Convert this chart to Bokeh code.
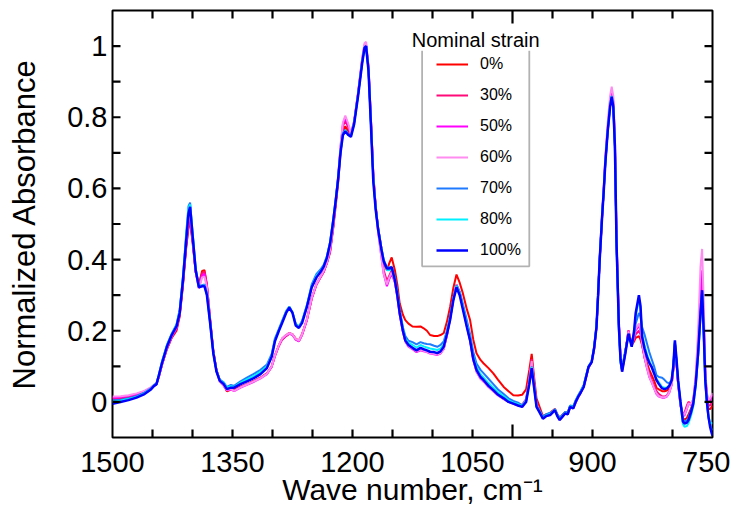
from bokeh.plotting import figure
from bokeh.models import (LinearAxis, FixedTicker, Range1d, Legend, LegendItem,
                          BoxAnnotation, Label)
from bokeh.embed import file_html
from bokeh.resources import INLINE

# ---------------- data ----------------
wavenumber = [
    1500, 1490, 1480, 1470, 1460, 1452, 1448, 1445, 1442, 1438,
    1432, 1426, 1420, 1416, 1412, 1408, 1405, 1403, 1400, 1396,
    1392, 1388, 1385, 1382, 1378, 1374, 1370, 1366, 1361, 1357,
    1352, 1348, 1340, 1332, 1324, 1315, 1307, 1301, 1297, 1292,
    1288, 1283, 1279, 1275, 1271, 1267, 1263, 1257, 1251, 1245,
    1240, 1236, 1232, 1228, 1224, 1221, 1218, 1215, 1212, 1209,
    1205, 1202, 1198, 1193, 1188, 1185, 1183, 1180, 1177, 1174,
    1171, 1168, 1164, 1161, 1157, 1154, 1151, 1147, 1144, 1141,
    1137, 1134, 1130, 1125, 1120, 1115, 1111, 1107, 1103, 1098,
    1094, 1090, 1086, 1082, 1078, 1074, 1070, 1066, 1062, 1057,
    1053, 1049, 1045, 1040, 1036, 1030, 1024, 1018, 1011, 1005,
    999, 993, 988, 983, 979, 976, 973, 970, 966, 962,
    958, 953, 950, 947, 944, 941, 937, 934, 931, 928,
    924, 921, 918, 915, 911, 908, 905, 901, 898, 895,
    893, 891, 888, 886, 884, 881, 878, 876, 874, 872,
    870, 867, 865, 863, 861, 859, 855, 851, 848, 846,
    842, 840, 838, 835, 832, 829, 826, 823, 820, 817,
    813, 810, 807, 804, 801, 799, 797, 795, 793, 790,
    787, 785, 782, 780, 777, 774, 771, 768, 765, 763,
    761, 759, 757, 755, 753, 751, 750,
]

strain_0 = [
    0.005, 0.008, 0.012, 0.018, 0.026, 0.036, 0.045, 0.05, 0.072, 0.105,
    0.148, 0.18, 0.2, 0.24, 0.325, 0.43, 0.49, 0.505, 0.45, 0.365,
    0.33, 0.368, 0.37, 0.33, 0.235, 0.145, 0.09, 0.062, 0.048, 0.03,
    0.035, 0.035, 0.043, 0.05, 0.058, 0.068, 0.08, 0.1, 0.13, 0.158,
    0.175, 0.185, 0.192, 0.19, 0.178, 0.172, 0.19, 0.23, 0.29, 0.33,
    0.35, 0.365, 0.39, 0.42, 0.49, 0.55, 0.615, 0.70, 0.76, 0.775,
    0.76, 0.75, 0.785, 0.865, 0.955, 0.998, 1.0, 0.935, 0.79, 0.635,
    0.55, 0.49, 0.435, 0.39, 0.37, 0.39, 0.406, 0.37, 0.33, 0.277,
    0.245, 0.23, 0.22, 0.212, 0.211, 0.212, 0.207, 0.2, 0.188, 0.185,
    0.185, 0.188, 0.193, 0.225, 0.267, 0.32, 0.358, 0.335, 0.305, 0.26,
    0.23, 0.175, 0.137, 0.118, 0.108, 0.095, 0.08, 0.062, 0.042, 0.03,
    0.019, 0.018, 0.02, 0.035, 0.09, 0.135, 0.07, 0.01, -0.015, -0.04,
    -0.035, -0.032, -0.025, -0.02, -0.035, -0.045, -0.035, -0.028, -0.03, -0.012,
    -0.015, 0.002, 0.015, 0.028, 0.045, 0.07, 0.098, 0.112, 0.15, 0.21,
    0.3, 0.4, 0.52, 0.59, 0.67, 0.76, 0.835, 0.86, 0.835, 0.725,
    0.455, 0.215, 0.125, 0.09, 0.115, 0.14, 0.2, 0.16, 0.17, 0.18,
    0.185, 0.175, 0.16, 0.13, 0.11, 0.09, 0.075, 0.06, 0.04, 0.035,
    0.03, 0.03, 0.032, 0.04, 0.055, 0.095, 0.165, 0.11, 0.055, -0.005,
    -0.045, -0.05, -0.045, -0.035, -0.02, 0.0, 0.055, 0.14, 0.26, 0.33,
    0.21, 0.07, 0.01, -0.02, -0.02, -0.015, -0.01,
]

strain_30 = [
    0.01, 0.012, 0.015, 0.02, 0.028, 0.038, 0.046, 0.05, 0.072, 0.106,
    0.15, 0.182, 0.205, 0.245, 0.33, 0.435, 0.495, 0.51, 0.455, 0.365,
    0.325, 0.362, 0.365, 0.328, 0.232, 0.143, 0.088, 0.06, 0.047, 0.032,
    0.036, 0.032, 0.042, 0.05, 0.058, 0.068, 0.08, 0.1, 0.13, 0.16,
    0.178, 0.188, 0.194, 0.19, 0.176, 0.172, 0.19, 0.232, 0.292, 0.332,
    0.352, 0.368, 0.392, 0.425, 0.495, 0.56, 0.625, 0.71, 0.775, 0.79,
    0.77, 0.752, 0.788, 0.868, 0.96, 1.0, 1.003, 0.94, 0.795, 0.64,
    0.55, 0.485, 0.42, 0.37, 0.34, 0.355, 0.37, 0.34, 0.3, 0.25,
    0.2, 0.172, 0.158, 0.15, 0.143, 0.148, 0.145, 0.142, 0.138, 0.136,
    0.134, 0.138, 0.15, 0.188, 0.235, 0.29, 0.33, 0.308, 0.268, 0.215,
    0.175, 0.12, 0.088, 0.068, 0.06, 0.045, 0.034, 0.022, 0.012, 0.003,
    -0.002, -0.006, -0.008, 0.008, 0.065, 0.12, 0.055, -0.005, -0.025, -0.042,
    -0.038, -0.034, -0.028, -0.02, -0.036, -0.046, -0.036, -0.03, -0.032, -0.013,
    -0.016, 0.0, 0.014, 0.026, 0.043, 0.07, 0.097, 0.112, 0.15, 0.21,
    0.3, 0.4, 0.52, 0.595, 0.675, 0.765, 0.84, 0.865, 0.84, 0.73,
    0.46, 0.22, 0.125, 0.09, 0.115, 0.14, 0.2, 0.16, 0.175, 0.19,
    0.2, 0.19, 0.16, 0.125, 0.1, 0.08, 0.062, 0.045, 0.03, 0.022,
    0.016, 0.015, 0.018, 0.03, 0.05, 0.09, 0.165, 0.11, 0.05, -0.01,
    -0.035, -0.03, -0.01, 0.0, -0.005, 0.005, 0.06, 0.15, 0.28, 0.34,
    0.22, 0.075, 0.015, -0.01, -0.01, -0.002, 0.0,
]

strain_50 = [
    0.012, 0.014, 0.017, 0.022, 0.03, 0.04, 0.047, 0.05, 0.07, 0.105,
    0.15, 0.183, 0.207, 0.248, 0.335, 0.44, 0.505, 0.52, 0.46, 0.365,
    0.32, 0.355, 0.36, 0.325, 0.23, 0.14, 0.087, 0.058, 0.045, 0.033,
    0.035, 0.03, 0.04, 0.048, 0.056, 0.066, 0.078, 0.098, 0.128, 0.158,
    0.176, 0.186, 0.192, 0.188, 0.175, 0.17, 0.188, 0.23, 0.29, 0.33,
    0.35, 0.366, 0.39, 0.425, 0.495, 0.562, 0.63, 0.715, 0.78, 0.80,
    0.775, 0.75, 0.787, 0.868, 0.962, 1.003, 1.005, 0.942, 0.795, 0.638,
    0.545, 0.48, 0.41, 0.36, 0.325, 0.345, 0.36, 0.335, 0.295, 0.245,
    0.197, 0.17, 0.155, 0.148, 0.14, 0.145, 0.142, 0.14, 0.136, 0.134,
    0.132, 0.136, 0.148, 0.186, 0.233, 0.288, 0.325, 0.305, 0.265, 0.212,
    0.172, 0.117, 0.085, 0.065, 0.057, 0.042, 0.03, 0.018, 0.008, 0.0,
    -0.005, -0.01, -0.012, 0.004, 0.06, 0.11, 0.05, -0.008, -0.028, -0.045,
    -0.04, -0.036, -0.03, -0.022, -0.038, -0.05, -0.04, -0.032, -0.035, -0.015,
    -0.018, -0.002, 0.012, 0.025, 0.042, 0.07, 0.097, 0.112, 0.15, 0.21,
    0.3, 0.4, 0.52, 0.595, 0.68, 0.77, 0.845, 0.87, 0.845, 0.735,
    0.46, 0.22, 0.122, 0.088, 0.112, 0.138, 0.2, 0.158, 0.18, 0.2,
    0.215, 0.2, 0.165, 0.125, 0.095, 0.07, 0.055, 0.038, 0.022, 0.015,
    0.012, 0.012, 0.015, 0.026, 0.048, 0.09, 0.16, 0.11, 0.05, -0.01,
    -0.04, -0.038, -0.02, -0.005, -0.008, 0.005, 0.065, 0.165, 0.31, 0.37,
    0.24, 0.08, 0.02, 0.0, 0.005, 0.015, 0.02,
]

strain_60 = [
    0.015, 0.016, 0.019, 0.024, 0.031, 0.041, 0.048, 0.052, 0.072, 0.106,
    0.152, 0.185, 0.21, 0.252, 0.34, 0.45, 0.515, 0.53, 0.465, 0.368,
    0.318, 0.35, 0.352, 0.322, 0.228, 0.14, 0.086, 0.058, 0.046, 0.034,
    0.036, 0.031, 0.041, 0.049, 0.057, 0.067, 0.079, 0.1, 0.13, 0.16,
    0.178, 0.188, 0.193, 0.19, 0.177, 0.172, 0.19, 0.232, 0.292, 0.332,
    0.352, 0.368, 0.392, 0.428, 0.5, 0.565, 0.635, 0.72, 0.785, 0.805,
    0.78, 0.752, 0.79, 0.872, 0.965, 1.008, 1.012, 0.945, 0.8, 0.64,
    0.545, 0.478, 0.408, 0.36, 0.33, 0.35, 0.365, 0.338, 0.298, 0.248,
    0.198, 0.171, 0.157, 0.15, 0.142, 0.147, 0.144, 0.141, 0.137, 0.135,
    0.133, 0.137, 0.149, 0.187, 0.234, 0.29, 0.33, 0.307, 0.267, 0.214,
    0.174, 0.118, 0.086, 0.066, 0.058, 0.043, 0.031, 0.019, 0.009, 0.001,
    -0.004, -0.008, -0.01, 0.006, 0.062, 0.115, 0.052, -0.006, -0.026, -0.043,
    -0.038, -0.035, -0.029, -0.021, -0.037, -0.048, -0.038, -0.031, -0.034, -0.014,
    -0.017, -0.001, 0.013, 0.026, 0.043, 0.071, 0.098, 0.113, 0.152, 0.212,
    0.302, 0.405, 0.53, 0.605, 0.69, 0.785, 0.86, 0.886, 0.86, 0.745,
    0.465, 0.22, 0.12, 0.085, 0.11, 0.135, 0.198, 0.16, 0.185, 0.205,
    0.22, 0.205, 0.168, 0.128, 0.098, 0.072, 0.056, 0.038, 0.024, 0.016,
    0.013, 0.013, 0.016, 0.027, 0.05, 0.092, 0.162, 0.112, 0.052, -0.008,
    -0.038, -0.035, -0.018, -0.004, -0.006, 0.008, 0.075, 0.2, 0.38, 0.43,
    0.28, 0.09, 0.025, 0.005, 0.01, 0.02, 0.025,
]

strain_70 = [
    0.005, 0.006, 0.01, 0.016, 0.026, 0.038, 0.048, 0.052, 0.078, 0.115,
    0.16, 0.192, 0.218, 0.26, 0.35, 0.47, 0.55, 0.56, 0.48, 0.375,
    0.325, 0.328, 0.33, 0.305, 0.225, 0.14, 0.088, 0.063, 0.055, 0.042,
    0.048, 0.045, 0.058, 0.068, 0.078, 0.09, 0.105, 0.135, 0.178, 0.205,
    0.228, 0.255, 0.268, 0.252, 0.22, 0.212, 0.228, 0.272, 0.33, 0.36,
    0.372, 0.385, 0.41, 0.45, 0.515, 0.57, 0.63, 0.705, 0.755, 0.765,
    0.752, 0.748, 0.785, 0.865, 0.955, 0.995, 1.0, 0.935, 0.785, 0.63,
    0.545, 0.49, 0.435, 0.4, 0.378, 0.378, 0.38, 0.35, 0.31, 0.26,
    0.21, 0.185, 0.172, 0.168, 0.162, 0.168, 0.165, 0.163, 0.162, 0.158,
    0.155, 0.16, 0.17, 0.2, 0.24, 0.29, 0.328, 0.31, 0.275, 0.228,
    0.19, 0.14, 0.108, 0.09, 0.08, 0.065, 0.05, 0.035, 0.022, 0.01,
    0.003, -0.002, -0.01, 0.005, 0.055, 0.1, 0.045, -0.01, -0.025, -0.042,
    -0.035, -0.03, -0.028, -0.02, -0.035, -0.045, -0.035, -0.028, -0.03, -0.01,
    -0.012, 0.005, 0.018, 0.03, 0.048, 0.075, 0.1, 0.115, 0.155, 0.215,
    0.305, 0.405, 0.525, 0.592, 0.67, 0.76, 0.83, 0.855, 0.825, 0.715,
    0.44, 0.2, 0.11, 0.09, 0.12, 0.145, 0.19, 0.16, 0.19, 0.22,
    0.25, 0.24, 0.21, 0.19, 0.165, 0.14, 0.12, 0.1, 0.075, 0.07,
    0.068, 0.062, 0.055, 0.052, 0.063, 0.1, 0.168, 0.115, 0.058, 0.0,
    -0.048, -0.055, -0.052, -0.045, -0.025, 0.0, 0.05, 0.13, 0.24, 0.31,
    0.19, 0.055, -0.005, -0.045, -0.065, -0.075, -0.08,
]

strain_80 = [
    0.0, 0.003, 0.008, 0.014, 0.024, 0.036, 0.046, 0.05, 0.076, 0.112,
    0.158, 0.19, 0.215, 0.255, 0.345, 0.46, 0.545, 0.555, 0.475, 0.372,
    0.323, 0.326, 0.327, 0.302, 0.223, 0.138, 0.086, 0.062, 0.053, 0.04,
    0.044, 0.042, 0.054, 0.063, 0.072, 0.085, 0.1, 0.13, 0.173, 0.202,
    0.225, 0.252, 0.266, 0.251, 0.218, 0.21, 0.225, 0.27, 0.325, 0.355,
    0.368, 0.382, 0.407, 0.447, 0.512, 0.567, 0.627, 0.702, 0.752, 0.762,
    0.75, 0.746, 0.782, 0.862, 0.952, 0.995, 1.0, 0.932, 0.782, 0.625,
    0.542, 0.487, 0.432, 0.397, 0.37, 0.37, 0.375, 0.345, 0.305, 0.255,
    0.205, 0.178, 0.166, 0.16, 0.153, 0.16, 0.156, 0.153, 0.15, 0.148,
    0.146, 0.15, 0.162, 0.195, 0.235, 0.288, 0.325, 0.305, 0.268, 0.218,
    0.18, 0.128, 0.098, 0.078, 0.068, 0.053, 0.04, 0.027, 0.016, 0.005,
    -0.002, -0.006, -0.012, 0.002, 0.052, 0.098, 0.042, -0.012, -0.028, -0.045,
    -0.038, -0.034, -0.029, -0.022, -0.038, -0.048, -0.038, -0.03, -0.033, -0.012,
    -0.015, 0.002, 0.016, 0.027, 0.045, 0.072, 0.099, 0.113, 0.152, 0.213,
    0.302, 0.402, 0.522, 0.59, 0.67, 0.76, 0.835, 0.86, 0.832, 0.72,
    0.445, 0.205, 0.115, 0.088, 0.115, 0.14, 0.19, 0.158, 0.195, 0.24,
    0.29, 0.262, 0.19, 0.16, 0.135, 0.115, 0.1, 0.083, 0.065, 0.055,
    0.042, 0.04, 0.04, 0.047, 0.062, 0.1, 0.17, 0.118, 0.06, -0.005,
    -0.062, -0.07, -0.068, -0.06, -0.04, -0.012, 0.045, 0.13, 0.245, 0.305,
    0.195, 0.058, -0.002, -0.04, -0.058, -0.06, -0.06,
]

strain_100 = [
    -0.005, 0.0, 0.005, 0.012, 0.022, 0.035, 0.045, 0.05, 0.075, 0.11,
    0.155, 0.188, 0.212, 0.25, 0.34, 0.45, 0.53, 0.548, 0.47, 0.37,
    0.322, 0.325, 0.325, 0.30, 0.222, 0.137, 0.085, 0.06, 0.05, 0.036,
    0.04, 0.04, 0.05, 0.058, 0.066, 0.078, 0.095, 0.127, 0.17, 0.2,
    0.222, 0.25, 0.265, 0.25, 0.215, 0.208, 0.222, 0.267, 0.322, 0.35,
    0.365, 0.38, 0.405, 0.445, 0.51, 0.565, 0.625, 0.70, 0.75, 0.76,
    0.75, 0.745, 0.78, 0.86, 0.95, 0.995, 1.0, 0.93, 0.78, 0.62,
    0.54, 0.485, 0.43, 0.395, 0.375, 0.375, 0.378, 0.342, 0.30, 0.25,
    0.20, 0.173, 0.16, 0.152, 0.145, 0.152, 0.148, 0.145, 0.141, 0.14,
    0.137, 0.142, 0.155, 0.19, 0.23, 0.285, 0.322, 0.30, 0.26, 0.21,
    0.173, 0.12, 0.09, 0.07, 0.061, 0.045, 0.033, 0.02, 0.01, 0.0,
    -0.005, -0.01, -0.014, 0.0, 0.05, 0.095, 0.04, -0.014, -0.03, -0.047,
    -0.04, -0.037, -0.03, -0.023, -0.04, -0.051, -0.04, -0.032, -0.035, -0.014,
    -0.018, 0.0, 0.014, 0.025, 0.042, 0.07, 0.098, 0.112, 0.15, 0.211,
    0.3, 0.4, 0.52, 0.59, 0.67, 0.76, 0.83, 0.858, 0.83, 0.72,
    0.45, 0.21, 0.12, 0.085, 0.11, 0.136, 0.192, 0.155, 0.2, 0.25,
    0.30, 0.27, 0.183, 0.15, 0.127, 0.11, 0.098, 0.08, 0.061, 0.05,
    0.038, 0.036, 0.038, 0.045, 0.061, 0.1, 0.173, 0.12, 0.061, 0.0,
    -0.055, -0.061, -0.058, -0.051, -0.03, -0.005, 0.05, 0.136, 0.25, 0.314,
    0.2, 0.061, 0.0, -0.042, -0.07, -0.088, -0.095,
]

series_labels = ["0%", "30%", "50%", "60%", "70%", "80%", "100%"]
series_values = [strain_0, strain_30, strain_50, strain_60, strain_70, strain_80, strain_100]
series_colors = ["#FF0000", "#FF0A78", "#FF00FF", "#FF8CF0", "#1E7BFF", "#00F0FF", "#0000FF"]
series_widths = [2, 2, 2, 2, 2, 2, 2.5]

x_label_ticks = [1500, 1350, 1200, 1050, 900, 750]
x_short_ticks = [1450, 1400, 1350, 1300, 1250, 1200, 1150, 1100, 1050,
                 950, 900, 850, 800]
x_long_ticks = [1000]
y_label_ticks = [0, 0.2, 0.4, 0.6, 0.8, 1]
y_tick_labels = ["0", "0.2", "0.4", "0.6", "0.8", "1"]
y_all_ticks = [0, 0.1, 0.2, 0.3, 0.4, 0.5, 0.6, 0.7, 0.8, 0.9, 1.0]

X_LO, X_HI = 1500, 750
Y_LO, Y_HI = -0.1, 1.1
FRAME_W, FRAME_H = 600, 427
FONT = "Liberation Sans"

DX_PER_PX = (X_LO - X_HI) / FRAME_W
DY_PER_PX = (Y_HI - Y_LO) / FRAME_H
SHORT, LONG = 8, 13

# ---------------- figure ----------------
p = figure(frame_width=FRAME_W, frame_height=FRAME_H,
           x_range=Range1d(X_LO, X_HI), y_range=Range1d(Y_LO, Y_HI),
           x_axis_location=None, y_axis_location=None,
           output_backend="svg", toolbar_location=None,
           min_border_left=112, min_border_right=18,
           min_border_top=10, min_border_bottom=60)
p.grid.visible = False
p.outline_line_color = "black"
p.outline_line_width = 2
p.background_fill_color = "white"
p.border_fill_color = "white"

x_lab = LinearAxis(ticker=FixedTicker(ticks=x_label_ticks, minor_ticks=[]),
                   major_tick_in=0, major_tick_out=0, minor_tick_in=0, minor_tick_out=0,
                   axis_line_color=None, major_label_standoff=14,
                   major_label_text_font=FONT, major_label_text_font_size="29px",
                   major_label_text_color="black",
                   axis_label="Wave number, cm\u207b\u00b9", axis_label_standoff=-2,
                   axis_label_text_font=FONT, axis_label_text_font_size="30px",
                   axis_label_text_font_style="normal", axis_label_text_color="black")
p.add_layout(x_lab, "below")

y_ax = LinearAxis(ticker=FixedTicker(ticks=y_label_ticks, minor_ticks=[]),
                  major_tick_in=0, major_tick_out=0, minor_tick_in=0, minor_tick_out=0,
                  axis_line_color=None,
                  major_label_overrides=dict(zip(y_label_ticks, y_tick_labels)),
                  major_label_standoff=5,
                  major_label_text_font=FONT, major_label_text_font_size="29px",
                  major_label_text_color="black",
                  axis_label="Normalized Absorbance", axis_label_standoff=22,
                  axis_label_text_font=FONT, axis_label_text_font_size="31px",
                  axis_label_text_font_style="normal", axis_label_text_color="black")
p.add_layout(y_ax, "left")

# spectra
items = []
for lab, vals, col, lw in zip(series_labels, series_values, series_colors, series_widths):
    r = p.line(wavenumber, vals, line_color=col, line_width=lw)
    items.append(LegendItem(label=lab, renderers=[r]))

# inward tick marks along the frame, drawn as polylines with p.multi_line
tick_xs, tick_ys = [], []
for xv in x_short_ticks:
    tick_xs += [[xv, xv], [xv, xv]]
    tick_ys += [[Y_LO, Y_LO + SHORT * DY_PER_PX], [Y_HI, Y_HI - SHORT * DY_PER_PX]]
for xv in x_long_ticks:
    tick_xs += [[xv, xv], [xv, xv]]
    tick_ys += [[Y_LO, Y_LO + LONG * DY_PER_PX], [Y_HI, Y_HI - LONG * DY_PER_PX]]
for yv in y_all_ticks:
    tick_xs += [[X_LO, X_LO - SHORT * DX_PER_PX], [X_HI, X_HI + SHORT * DX_PER_PX]]
    tick_ys += [[yv, yv], [yv, yv]]
p.multi_line(xs=tick_xs, ys=tick_ys, line_color="#000000", line_width=2.2,
             line_alpha=1.0)

# legend frame + title
p.add_layout(BoxAnnotation(left=1113, right=979, top=1.0, bottom=0.381,
                           fill_color="white", fill_alpha=1.0,
                           line_color="black", line_width=1.8))
p.add_layout(Label(x=1046, y=1.018, text="Nominal strain", text_align="center",
                   text_baseline="middle", text_font=FONT, text_font_size="20px",
                   text_color="black", background_fill_color="white"))

legend = Legend(items=items, location=(324, 176), orientation="vertical",
                padding=0, margin=0, spacing=9, glyph_width=32, glyph_height=22,
                label_height=22, label_standoff=12,
                label_text_font=FONT, label_text_font_size="16px",
                label_text_color="black", border_line_color=None,
                background_fill_alpha=0.0)
p.add_layout(legend, "center")

open("out.html", "w").write(file_html(p, INLINE))
